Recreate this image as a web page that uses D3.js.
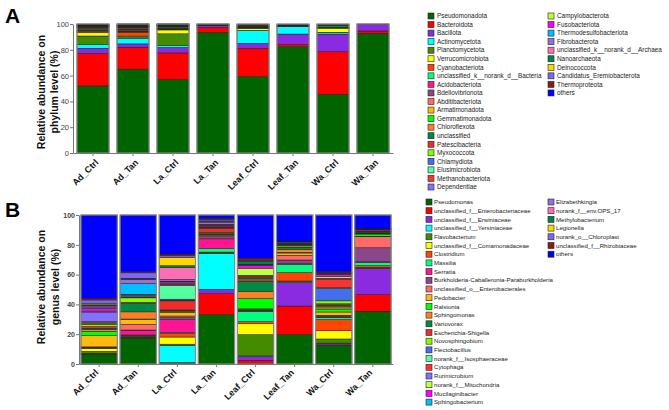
<!DOCTYPE html>
<html>
<head>
<meta charset="utf-8">
<script src="https://cdn.jsdelivr.net/npm/d3@7"></script>
<style>
  body { margin: 0; background: #fff; }
  text { font-family: "Liberation Sans", Arial, sans-serif; }
</style>
</head>
<body>
<script>
// Samples (x axis)
const samples = ["Ad_Ctrl", "Ad_Tan", "La_Ctrl", "La_Tan", "Leaf_Ctrl", "Leaf_Tan", "Wa_Ctrl", "Wa_Tan"];

// Phylum level taxa (legend order = stack order, bottom up)
const phyla = ["Pseudomonadota", "Bacteroidota", "Bacillota", "Actinomycetota", "Planctomycetota",
  "Verrucomicrobiota", "Cyanobacteriota", "unclassified_k__norank_d__Bacteria", "Acidobacteriota",
  "Bdellovibrionota", "Abditibacteriota", "Armatimonadota", "Gemmatimonadota", "Chloroflexota",
  "unclassified", "Patescibacteria", "Myxococcota", "Chlamydiota", "Elusimicrobiota",
  "Methanobacteriota", "Dependentiae", "Campylobacterota", "Fusobacteriota",
  "Thermodesulfobacteriota", "Fibrobacterota", "unclassified_k__norank_d__Archaea",
  "Nanoarchaeota", "Deinococcota", "Candidatus_Eremiobacterota", "Thermoproteota", "others"];

// Genus level taxa
const genera = ["Pseudomonas", "unclassified_f__Enterobacteriaceae", "unclassified_f__Erwiniaceae",
  "unclassified_f__Yersiniaceae", "Flavobacterium", "unclassified_f__Comamonadaceae", "Clostridium",
  "Massilia", "Serratia", "Burkholderia-Caballeronia-Paraburkholderia", "unclassified_o__Enterobacterales",
  "Pedobacter", "Ralstonia", "Sphingomonas", "Variovorax", "Escherichia-Shigella", "Novosphingobium",
  "Flectobacillus", "norank_f__Isosphaeraceae", "Cytophaga", "Rurimicrobium", "norank_f__Mitochondria",
  "Mucilaginibacter", "Sphingobacterium", "Elizabethkingia", "norank_f__env.OPS_17", "Methylobacterium",
  "Legionella", "norank_o__Chloroplast", "unclassified_f__Rhizobiaceae", "others"];

// shared colour list (same order in both panels)
const palette = ["#006400", "#FF0000", "#8A2BE2", "#00FFFF", "#458B00", "#FFFF00", "#FF4500", "#00FF7F",
  "#FF1493", "#8B4789", "#FF6A6A", "#FFB90F", "#00FF00", "#FF7F24", "#008B45", "#EE2C2C", "#7FFF00",
  "#436EEE", "#54FF9F", "#FF3030", "#8470FF", "#C0FF3E", "#FF00FF", "#00BFFF", "#9370DB", "#FF6EB4",
  "#00804A", "#FFD700", "#7B68EE", "#8B1A1A", "#0000FF"];

// Phylum relative abundance (%) per sample, in phyla order
const phylumAdCtrl   = [52.0, 25.2, 4.0, 3.0, 6.5, 2.5, 0.8, 0.5, 0.4, 0.4, 0.3, 0.5, 0.3, 0.5, 0.4, 0.3, 0.2, 0.2, 0.1, 0.1, 0.2, 0.1, 0.3, 0.1, 0.1, 0.1, 0.1, 0.1, 0.1, 0.4, 0.2];
const phylumAdTan    = [65.0, 17.0, 2.6, 4.4, 1.2, 0.4, 3.0, 0.3, 0.5, 0.4, 0.6, 0.5, 0.2, 0.8, 0.6, 0.3, 0.1, 0.1, 0.1, 0.1, 0.1, 0.1, 0.2, 0.1, 0.1, 0.1, 0.2, 0.1, 0.1, 0.6, 0.2];
const phylumLaCtrl   = [57.0, 20.6, 4.2, 1.6, 9.0, 3.0, 0.3, 0.2, 0.2, 0.2, 0.1, 0.2, 0.2, 0.2, 1.0, 0.2, 0.1, 0.1, 0.1, 0.1, 0.1, 0.1, 0.1, 0.1, 0.1, 0.1, 0.2, 0.1, 0.1, 0.4, 0.1];
const phylumLaTan    = [93.5, 3.9, 1.3, 0.2, 0.1, 0.1, 0.1, 0, 0.1, 0.1, 0, 0, 0, 0, 0.2, 0, 0, 0, 0, 0, 0, 0, 0, 0, 0, 0, 0, 0, 0, 0.3, 0.1];
const phylumLeafCtrl = [59.2, 21.9, 3.9, 9.8, 0.3, 1.6, 0.2, 0.1, 0.2, 0.2, 0.1, 0.1, 0.1, 0.3, 0.3, 0.1, 0, 0, 0, 0, 0, 0.6, 0, 0, 0, 0, 0, 0, 0, 0.7, 0.2];
const phylumLeafTan  = [82.4, 1.8, 8.0, 5.7, 0.2, 0.2, 0.1, 0, 0.1, 0.1, 0, 0, 0, 0.1, 0.3, 0, 0, 0, 0, 0, 0, 0, 0, 0, 0, 0, 0, 0, 0, 0.6, 0.3];
const phylumWaCtrl   = [45.5, 33.0, 13.7, 1.1, 0.3, 3.2, 0.1, 0.1, 0.1, 0.1, 0, 0, 0, 0.1, 1.7, 0, 0, 0, 0, 0, 0, 0, 0, 0, 0, 0, 0, 0, 0, 0.7, 0.2];
const phylumWaTan    = [92.8, 1.8, 5.2, 0, 0, 0, 0, 0, 0, 0, 0, 0, 0, 0, 0, 0, 0, 0, 0, 0, 0, 0, 0, 0, 0, 0, 0, 0, 0, 0.1, 0.1];

// Genus relative abundance (%) per sample, in genera order
const genusAdCtrl   = [6.3, 0.3, 0.2, 0.2, 1.5, 1.8, 0.3, 0.3, 0.2, 0.2, 0.2, 7.5, 3.0, 1.2, 0.8, 1.2, 1.5, 0.4, 0.5, 0.8, 6.5, 0.6, 1.8, 0.4, 1.2, 0.5, 0.4, 1.0, 2.2, 1.2, 55.8];
const genusAdTan    = [17.4, 0.3, 0.2, 0.2, 0.6, 0.3, 0.3, 0.2, 3.0, 0.3, 3.8, 3.4, 0.2, 4.8, 5.5, 0.9, 3.0, 0.2, 0.2, 0.3, 1.0, 0.3, 0.3, 7.3, 2.8, 0.2, 0.2, 0.2, 3.8, 0.8, 38.0];
const genusLaCtrl   = [0.4, 0.4, 0.1, 11.6, 0.8, 4.8, 2.4, 0.5, 8.8, 1.4, 1.0, 2.5, 0.4, 0.5, 0.6, 6.2, 0.3, 0.8, 9.2, 0.8, 0.6, 0.3, 0.8, 0.4, 1.2, 7.8, 1.4, 5.6, 1.0, 1.2, 26.2];
const genusLaTan    = [33.1, 14.1, 2.9, 23.9, 0.5, 0.2, 0.4, 2.3, 6.6, 1.5, 0.8, 0.4, 0.2, 0.3, 0.9, 2.8, 0.3, 0.2, 0.3, 0.8, 0.4, 0.2, 0.3, 0.2, 1.6, 0.3, 0.3, 0.3, 1.0, 0.5, 2.4];
const genusLeafCtrl = [0.3, 2.2, 2.6, 0.3, 14.3, 7.3, 1.4, 6.8, 0.4, 0.6, 0.4, 0.4, 7.0, 4.6, 7.0, 1.0, 0.8, 0.2, 0.4, 1.0, 0.5, 4.8, 1.7, 0.2, 0.3, 0.3, 2.0, 0.2, 0.4, 1.6, 29.0];
const genusLeafTan  = [19.7, 19.2, 15.8, 0.4, 0.3, 0.3, 5.6, 5.6, 0.4, 2.5, 3.2, 1.5, 0.4, 2.0, 1.2, 0.4, 0.8, 0.2, 0.3, 0.2, 0.2, 0.2, 0.2, 0.2, 0.2, 0.2, 0.8, 0.1, 0.1, 0.2, 17.6];
const genusWaCtrl   = [12.5, 0.3, 1.0, 0.2, 2.8, 5.5, 7.6, 1.2, 0.3, 0.8, 0.5, 2.2, 2.0, 1.4, 1.3, 0.8, 2.0, 8.4, 0.4, 5.8, 0.6, 1.0, 1.4, 0.2, 0.3, 0.2, 0.3, 0.3, 0.3, 0.6, 37.8];
const genusWaTan    = [35.4, 11.1, 17.7, 0.2, 0.2, 0.2, 1.2, 2.2, 0.4, 9.4, 7.4, 0.3, 1.5, 0.2, 0.5, 0.4, 0.3, 0.1, 0.2, 0.2, 0.1, 0.2, 0.8, 0.1, 0.1, 0.1, 0.1, 0.1, 0.1, 0.2, 9.0];

const phylumValues = [phylumAdCtrl, phylumAdTan, phylumLaCtrl, phylumLaTan, phylumLeafCtrl, phylumLeafTan, phylumWaCtrl, phylumWaTan];
const genusValues = [genusAdCtrl, genusAdTan, genusLaCtrl, genusLaTan, genusLeafCtrl, genusLeafTan, genusWaCtrl, genusWaTan];
const yTicks = [0, 20, 40, 60, 80, 100];

const svg = d3.select("body").append("svg")
    .attr("width", 669)
    .attr("height", 410);

function drawPanel(p) {
    const rows = samples.map((s, i) => {
        const row = { sample: s };
        p.taxa.forEach((t, j) => row[t] = p.values[i][j]);
        return row;
    });
    const color = d3.scaleOrdinal().domain(p.taxa).range(palette);

    const x = d3.scaleBand().domain(samples)
        .range([p.left, p.right])
        .paddingInner(p.padInner)
        .paddingOuter(p.padOuter);
    const y = d3.scaleLinear().domain([0, 100]).range([p.bottom, p.top]);

    const stacked = d3.stack().keys(p.taxa)(rows);

    // stacked segments
    svg.append("g")
      .selectAll("g")
      .data(stacked)
      .join("g")
        .attr("fill", d => color(d.key))
      .selectAll("rect")
      .data(d => d)
      .join("rect")
        .attr("x", d => x(d.data.sample))
        .attr("width", x.bandwidth())
        .attr("y", d => y(d[1]))
        .attr("height", d => Math.max(0, y(d[0]) - y(d[1])))
        .attr("stroke", "#1a1a1a")
        .attr("stroke-width", d => (d[1] - d[0]) > 0 ? 0.5 : 0);

    // grey outline around each bar
    svg.append("g")
      .selectAll("rect")
      .data(samples)
      .join("rect")
        .attr("x", d => x(d))
        .attr("width", x.bandwidth())
        .attr("y", y(100))
        .attr("height", y(0) - y(100))
        .attr("fill", "none")
        .attr("stroke", "#8a8a8a")
        .attr("stroke-width", 1.2);

    // y axis
    const yAxis = svg.append("g")
        .attr("transform", `translate(${p.left},0)`)
        .call(d3.axisLeft(y).tickValues(yTicks).tickSize(3).tickSizeOuter(0));
    yAxis.select(".domain").attr("stroke", "#777");
    yAxis.selectAll(".tick line").attr("stroke", "#777");
    yAxis.selectAll(".tick text")
        .attr("x", -4)
        .style("font-size", p.tickFont)
        .style("font-weight", p.tickWeight)
        .attr("fill", "#444");

    // x axis
    const xAxis = svg.append("g")
        .attr("transform", `translate(0,${p.bottom})`)
        .call(d3.axisBottom(x).tickSize(3).tickSizeOuter(0).tickFormat(""));
    xAxis.select(".domain").attr("stroke", "#777");
    xAxis.selectAll(".tick line").attr("stroke", "#777");

    svg.append("g")
      .selectAll("text")
      .data(samples)
      .join("text")
        .attr("transform", d => `translate(${x(d) + x.bandwidth() / 2 + p.labelDx},${p.bottom + p.labelDy}) rotate(-45)`)
        .attr("text-anchor", "end")
        .style("font-size", "9px")
        .style("font-weight", "bold")
        .attr("fill", "#111")
        .text(d => d);

    // y axis title (two lines)
    const cy = p.titleY;
    p.yTitle.forEach((line, i) => {
        svg.append("text")
            .attr("transform", `translate(${p.titleX[i]},${cy}) rotate(-90)`)
            .attr("text-anchor", "middle")
            .style("font-size", "10.5px")
            .style("font-weight", "bold")
            .attr("fill", "#111")
            .text(line);
    });

    // panel letter
    svg.append("text")
        .attr("x", 5)
        .attr("y", p.letterY)
        .style("font-size", "21px")
        .style("font-weight", "bold")
        .attr("fill", "#000")
        .text(p.letter);

    // legend, two columns
    const legend = svg.append("g");
    const items = legend.selectAll("g")
        .data(p.taxa)
        .join("g")
        .attr("transform", (d, i) => {
            const col = i < p.perCol ? 0 : 1;
            const row = col ? i - p.perCol : i;
            return `translate(${p.legendX[col]},${p.legendY + row * p.legendStep})`;
        });
    items.append("rect")
        .attr("x", 0)
        .attr("y", -3)
        .attr("width", 6)
        .attr("height", 6)
        .attr("fill", d => color(d))
        .attr("stroke", "#222")
        .attr("stroke-width", 0.6);
    items.append("text")
        .attr("x", p.legendTextDx)
        .attr("y", 0)
        .attr("dy", "0.35em")
        .style("font-size", p.legendFont)
        .attr("fill", "#222")
        .text(d => d);
}

drawPanel({
    letter: "A", letterY: 23,
    taxa: phyla, values: phylumValues,
    top: 24, bottom: 153, left: 73, right: 393,
    padInner: 0.2, padOuter: 0.1,
    tickFont: "7.5px", tickWeight: "normal",
    labelDx: 6, labelDy: 10,
    yTitle: ["Relative abundance on", "phylum level (%)"],
    titleX: [45, 58], titleY: 92,
    legendX: [428, 548], legendY: 16, legendStep: 8.55, perCol: 21,
    legendTextDx: 9, legendFont: "6.4px"
});

drawPanel({
    letter: "B", letterY: 217,
    taxa: genera, values: genusValues,
    top: 215, bottom: 364, left: 79, right: 393,
    padInner: 0.07, padOuter: 0.05,
    tickFont: "7px", tickWeight: "bold",
    labelDx: 0, labelDy: 9,
    yTitle: ["Relative abundance on", "genus level  (%)"],
    titleX: [45, 59], titleY: 287,
    legendX: [426, 548], legendY: 202, legendStep: 8.7, perCol: 24,
    legendTextDx: 8, legendFont: "6.1px"
});
</script>
</body>
</html>
